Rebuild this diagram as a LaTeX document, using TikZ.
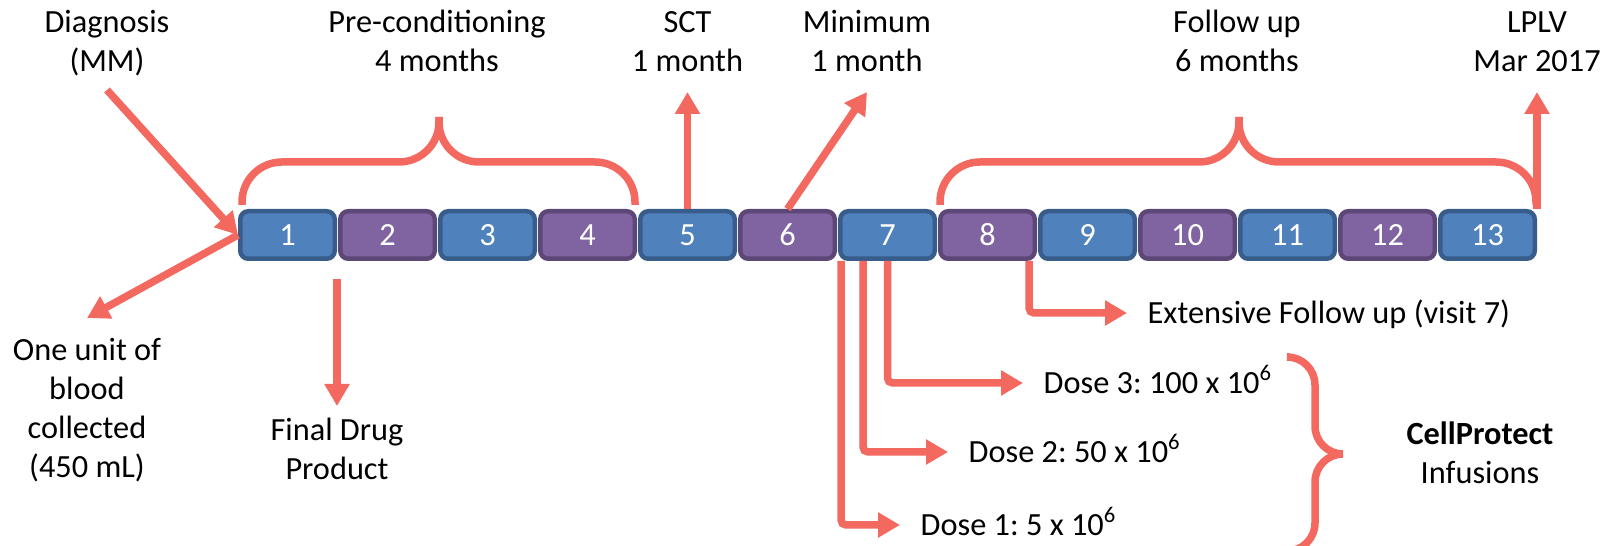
\documentclass[tikz,border=0pt]{standalone}
\usepackage{fontspec}
\setmainfont{Carlito}
\frenchspacing
\usetikzlibrary{positioning, arrows.meta}
\definecolor{boxblue}{HTML}{4F81BD}
\definecolor{boxblueline}{HTML}{385D8A}
\definecolor{boxpurple}{HTML}{8064A2}
\definecolor{boxpurpleline}{HTML}{5C4776}
\definecolor{arrowred}{HTML}{F3685F}

\begin{document}
\begin{tikzpicture}[
		font=\fontsize{9.2}{11.1}\selectfont,
		box/.style={rectangle, rounded corners=0.08cm, line width=0.045cm, minimum width=0.945cm, minimum height=0.475cm, inner sep=0pt, text=white},
		bluebox/.style={box, fill=boxblue, draw=boxblueline},
		purplebox/.style={box, fill=boxpurple, draw=boxpurpleline},
		toplabel/.style={align=center, inner sep=0pt, text depth=0pt},
		sidelabel/.style={inner sep=0pt, text height=0.21cm, text depth=0pt, anchor=west},
		arr/.style={-{Triangle[width=0.24cm, length=0.22cm]}, line width=0.075cm, draw=arrowred},
		brace/.style={line width=0.075cm, draw=arrowred, rounded corners=0.4cm}
	]
		\useasboundingbox (0,0) rectangle (16.13,-5.46);
		
		\node[bluebox] (b1) at (2.875,-2.35) {1};
		\node[purplebox, right = 0.01cm of b1] (b2) {2};
		\node[bluebox, right = 0.01cm of b2] (b3) {3};
		\node[purplebox, right = 0.01cm of b3] (b4) {4};
		\node[bluebox, right = 0.01cm of b4] (b5) {5};
		\node[purplebox, right = 0.01cm of b5] (b6) {6};
		\node[bluebox, right = 0.01cm of b6] (b7) {7};
		\node[purplebox, right = 0.01cm of b7] (b8) {8};
		\node[bluebox, right = 0.01cm of b8] (b9) {9};
		\node[purplebox, right = 0.01cm of b9] (b10) {10};
		\node[bluebox, right = 0.01cm of b10] (b11) {11};
		\node[purplebox, right = 0.01cm of b11] (b12) {12};
		\node[bluebox, right = 0.01cm of b12] (b13) {13};
		
		\node[toplabel, above = 1.37cm of b1, xshift=-1.805cm] (diag) {Diagnosis\\(MM)};
		\node[toplabel, above = 1.37cm of b2.north east] (pre) {Pre-conditioning\\4 months};
		\node[toplabel, above = 1.37cm of b5] (sct) {SCT\\1 month};
		\node[toplabel, above = 1.37cm of b6, xshift=0.795cm] (mini) {Minimum\\1 month};
		\node[toplabel, above = 1.37cm of b10.north east] (fol) {Follow up\\6 months};
		\node[toplabel, above = 1.37cm of b13.north east] (lplv) {LPLV\\Mar 2017};
		
		\node[toplabel, below = 0.77cm of b1, xshift=-2.005cm] (blood) {One unit of\\blood\\collected\\(450 mL)};
		\node[toplabel, below = 1.56cm of b1.south east] (final) {Final Drug\\Product};
		
		\node[sidelabel] (d1) at (9.20,-5.25) {Dose 1: 5 x 10\textsuperscript{6}};
		\node[sidelabel] (d2) at (9.68,-4.52) {Dose 2: 50 x 10\textsuperscript{6}};
		\node[sidelabel] (d3) at (10.43,-3.83) {Dose 3: 100 x 10\textsuperscript{6}};
		\node[sidelabel] (ext) at (11.47,-3.13) {Extensive Follow up (visit 7)};
		\node[toplabel] (cell) at (14.80,-4.525) {\textbf{CellProtect}\\Infusions};
		
		\draw[arr] ([yshift=-0.18cm]diag.south) -- (b1.west);
		\draw[arr] (b1.west) -- ([yshift=0.2cm]blood.north);
		\draw[arr] ([yshift=-0.18cm]b1.south east) -- ([yshift=0.11cm]final.north);
		\draw[arr] (b5.north) -- ([yshift=-0.2cm]sct.south);
		\draw[arr] (b6.north) -- ([yshift=-0.2cm]mini.south);
		\draw[arr] (b13.north east) -- ([yshift=-0.2cm]lplv.south);
		
		\draw[arr, rounded corners=0.05cm, shorten >=0.2cm] ([xshift=0.03cm]b7.south west) |- (d1);
		\draw[arr, rounded corners=0.05cm, shorten >=0.2cm] ([xshift=-0.245cm]b7.south) |- (d2);
		\draw[arr, rounded corners=0.05cm, shorten >=0.2cm] (b7.south) |- (d3);
		\draw[arr, rounded corners=0.05cm, shorten >=0.2cm] ([xshift=-0.08cm]b8.south east) |- (ext);
		
		\draw[brace] (2.42,-2.05) -- (2.42,-1.62) -- (4.39,-1.62) -- (4.39,-1.17);
		\draw[brace] (6.35,-2.05) -- (6.35,-1.62) -- (4.39,-1.62) -- (4.39,-1.17);
		\draw[brace] (9.40,-2.05) -- (9.40,-1.62) -- (12.39,-1.62) -- (12.39,-1.17);
		\draw[brace] (15.36,-2.05) -- (15.36,-1.62) -- (12.39,-1.62) -- (12.39,-1.17);
		
		\draw[brace, rounded corners=0.28cm] (12.89,-3.57) -- (13.15,-3.57) -- (13.15,-4.54) -- (13.43,-4.54);
		\draw[brace, rounded corners=0.28cm] (12.89,-5.51) -- (13.15,-5.51) -- (13.15,-4.54) -- (13.43,-4.54);
		
	\end{tikzpicture}
\end{document}
